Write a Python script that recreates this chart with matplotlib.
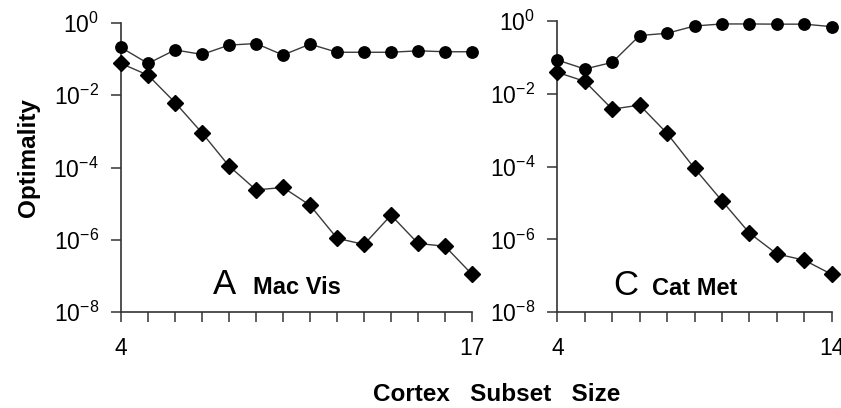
import matplotlib.pyplot as plt
from matplotlib.ticker import FixedLocator, NullFormatter

plt.rcParams['font.family'] = ['Liberation Sans', 'DejaVu Sans']
plt.rcParams['mathtext.fontset'] = 'custom'
plt.rcParams['mathtext.rm'] = 'Liberation Sans'
plt.rcParams['mathtext.it'] = 'Liberation Sans'

# subset sizes
size_a = [4, 5, 6, 7, 8, 9, 10, 11, 12, 13, 14, 15, 16, 17]
size_c = [4, 5, 6, 7, 8, 9, 10, 11, 12, 13, 14]

# Mac Vis optimality
circ_a = [0.21, 0.076, 0.18, 0.135, 0.245, 0.27, 0.13, 0.26, 0.155, 0.155, 0.155, 0.17, 0.16, 0.16]
diam_a = [0.076, 0.036, 0.0063, 9.1e-4, 1.1e-4, 2.4e-5, 2.8e-5, 9e-6, 1.1e-6, 7.4e-7, 4.8e-6, 7.9e-7, 6.6e-7, 1.1e-7]

# Cat Met optimality
circ_c = [0.085, 0.048, 0.073, 0.40, 0.46, 0.73, 0.83, 0.83, 0.82, 0.82, 0.70]
diam_c = [0.039, 0.022, 0.0038, 0.0049, 8.2e-4, 9e-5, 1.15e-5, 1.5e-6, 4e-7, 2.7e-7, 1.1e-7]

y_ticks = [1e0, 1e-2, 1e-4, 1e-6, 1e-8]
y_tick_labels = [r'$\mathregular{10^{0}}$', r'$\mathregular{10^{-2}}$', r'$\mathregular{10^{-4}}$',
                 r'$\mathregular{10^{-6}}$', r'$\mathregular{10^{-8}}$']

fig = plt.figure(figsize=(8.41, 4.08), dpi=100)
ax_a = fig.add_axes([0.1439, 0.2353, 0.4174, 0.7083])
ax_c = fig.add_axes([0.6627, 0.2346, 0.3263, 0.7139])

panels = [
    (ax_a, size_a, circ_a, diam_a, 'A', 'Mac Vis', 0.262, 0.376),
    (ax_c, size_c, circ_c, diam_c, 'C', 'Cat Met', 0.202, 0.344),
]

for ax, xs, circ, diam, letter, name, lx, nx in panels:
    ax.plot(xs, circ, color='#3a3a3a', lw=1.0, marker='o', ms=8.2,
            mfc='black', mec='black', clip_on=False, zorder=3)
    ax.plot(xs, diam, color='#3a3a3a', lw=1.0, marker='D', ms=8.0,
            mfc='black', mec='black', clip_on=False, zorder=3)
    ax.set_yscale('log')
    ax.set_ylim(1e-8, 1e0)
    ax.set_xlim(xs[0], xs[-1])

    ax.yaxis.set_major_locator(FixedLocator(y_ticks))
    ax.set_yticklabels(y_tick_labels)
    ax.yaxis.set_minor_locator(FixedLocator([]))

    ax.xaxis.set_major_locator(FixedLocator([xs[0], xs[-1]]))
    ax.set_xticklabels([str(xs[0]), str(xs[-1])])
    ax.xaxis.set_minor_locator(FixedLocator(xs[1:-1]))
    ax.xaxis.set_minor_formatter(NullFormatter())

    for side in ['top', 'right']:
        ax.spines[side].set_visible(False)
    for side in ['left', 'bottom']:
        ax.spines[side].set_linewidth(1.2)
        ax.spines[side].set_color('#333333')

    ax.tick_params(which='both', direction='out', length=7, width=1.1, color='#333333')
    ax.tick_params(axis='y', labelsize=16.5, pad=9)
    ax.tick_params(axis='x', labelsize=16.5, pad=11)

    ax.text(lx, 0.061, letter, transform=ax.transAxes, fontsize=25, va='baseline')
    ax.text(nx, 0.061, name, transform=ax.transAxes, fontsize=17, fontweight='bold', va='baseline')

fig.text(0.034, 0.615, 'Optimality', rotation=90, ha='center', va='center',
         fontsize=17.5, fontweight='bold')
fig.text(0.591, 0.032, 'Cortex   Subset   Size', ha='center', va='center',
         fontsize=17.5, fontweight='bold')

fig.savefig('out.png', dpi=100)
